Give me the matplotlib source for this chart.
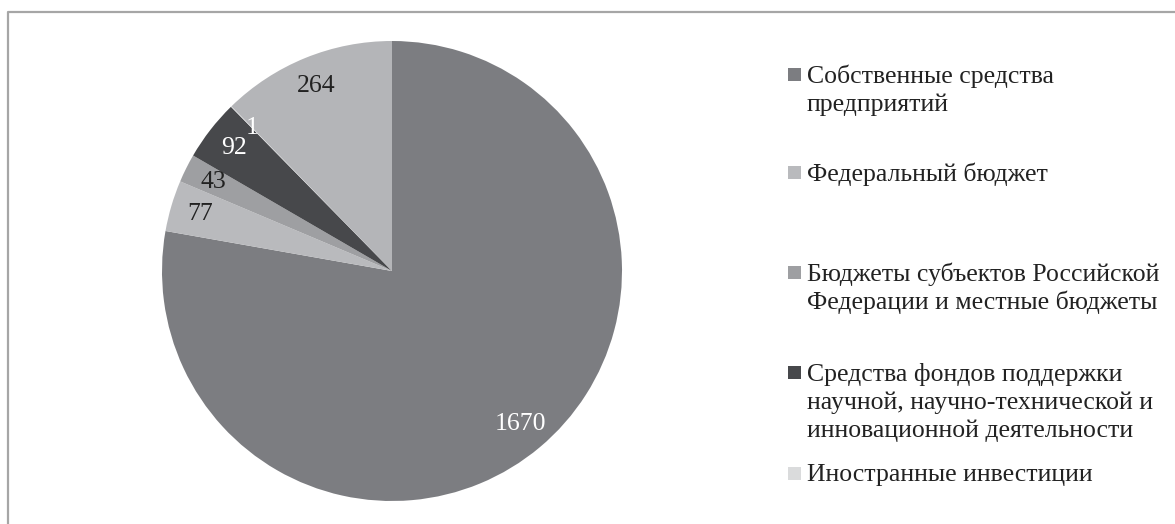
import matplotlib.pyplot as plt
import numpy as np
from matplotlib.lines import Line2D
from matplotlib.patches import Rectangle

plt.rcParams['font.family'] = ['Liberation Serif', 'DejaVu Serif']

# источники финансирования, млн руб.
values = [1670, 77, 43, 92, 1, 264]
legend_labels = [
    "Собственные средства\nпредприятий",
    "Федеральный бюджет",
    "Бюджеты субъектов Российской\nФедерации и местные бюджеты",
    "Средства фондов поддержки\nнаучной, научно-технической и\nинновационной деятельности",
    "Иностранные инвестиции",
]
colors = ['#7c7d81', '#b9babd', '#9e9fa2', '#47484b', '#dadbdc', '#b4b5b8']
label_colors = ['white', '#222222', '#222222', 'white', 'white', '#222222']

W, H = 1175, 524
fig = plt.figure(figsize=(W / 100, H / 100), dpi=100)

# рамка области диаграммы
fig.add_artist(Line2D([8 / W, 8 / W, 1.01], [-0.01, 1 - 12 / H, 1 - 12 / H],
                      color='#a6a6a6', linewidth=1.6))

cx, cy, r = 392, 271, 230
ax = fig.add_axes([(cx - r) / W, (H - cy - r) / H, 2 * r / W, 2 * r / H])
wedges, _ = ax.pie(values, colors=colors, startangle=90, counterclock=False,
                   wedgeprops=dict(linewidth=0))
ax.set_xlim(-1, 1)
ax.set_ylim(-1, 1)

fs = 18.5

# подписи значений на середине сектора
for w, v, c in zip(wedges, values, label_colors):
    ang = np.deg2rad((w.theta1 + w.theta2) / 2)
    ax.text(0.87 * np.cos(ang), 0.87 * np.sin(ang), str(v), ha='center', va='center',
            fontsize=fs, color=c)

# легенда: квадрат и строки подписи, каждая строка отдельно
legend_y = [74, 171.5, 271.5, 371.5, 472.5]
line_h = 28
for lab, col, y in zip(legend_labels, colors, legend_y):
    fig.add_artist(Rectangle((788 / W, 1 - (y + 7) / H), 13 / W, 13 / H,
                             facecolor=col, edgecolor='none', transform=fig.transFigure))
    for i, line in enumerate(lab.split('\n')):
        fig.text(807 / W, 1 - (y + 9 + i * line_h) / H, line, ha='left', va='baseline',
                 fontsize=fs, color='#222222')

fig.savefig('out.png', dpi=100)
